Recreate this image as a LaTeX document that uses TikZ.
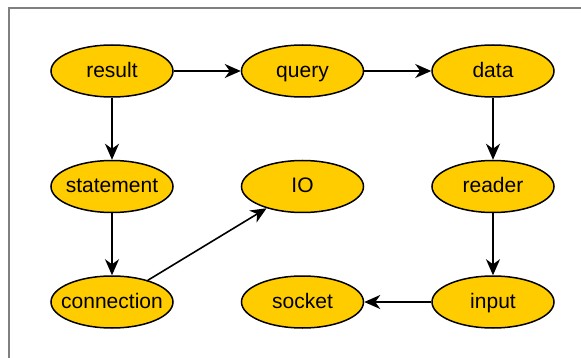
\documentclass[tikz,border=0pt]{standalone}
\usepackage{fontspec}
\setmainfont{Liberation Sans}
\usepackage{tikz}
\usetikzlibrary{positioning,arrows.meta,shapes.geometric}
\definecolor{gold}{RGB}{255,204,0}

\begin{document}
\begin{tikzpicture}[
    x=1pt, y=-1pt,
    node distance=62pt and 67pt,
    every node/.style={font=\fontsize{21}{25}\selectfont},
    obj/.style={draw, ellipse, fill=gold, line width=1.5pt, minimum width=122pt, minimum height=52pt,
        inner xsep=-12pt, inner ysep=0pt, text height=15.5pt, text depth=2.5pt},
    arr/.style={-{Stealth[length=16pt, width=14pt, inset=5pt]}, line width=1.6pt}
]
\useasboundingbox (0,0) rectangle (581,358);
\draw[gray, line width=1.5pt] (581,8) -- (9,8) -- (9,358);

\node[obj] (result) at (112,71) {result};
\node[obj, right=of result] (query) {query};
\node[obj, right=of query] (data) {data};
\node[obj, below=of result] (statement) {statement};
\node[obj, below=of query] (io) {IO};
\node[obj, below=of data] (reader) {reader};
\node[obj, below=of statement] (connection) {connection};
\node[obj, below=of io] (socket) {socket};
\node[obj, below=of reader] (input) {input};

\draw[arr] (result) -- (query);
\draw[arr] (query) -- (data);
\draw[arr] (result) -- (statement);
\draw[arr] (statement) -- (connection);
\draw[arr] (connection) -- (io);
\draw[arr] (data) -- (reader);
\draw[arr] (reader) -- (input);
\draw[arr] (input) -- (socket);
\end{tikzpicture}
\end{document}
